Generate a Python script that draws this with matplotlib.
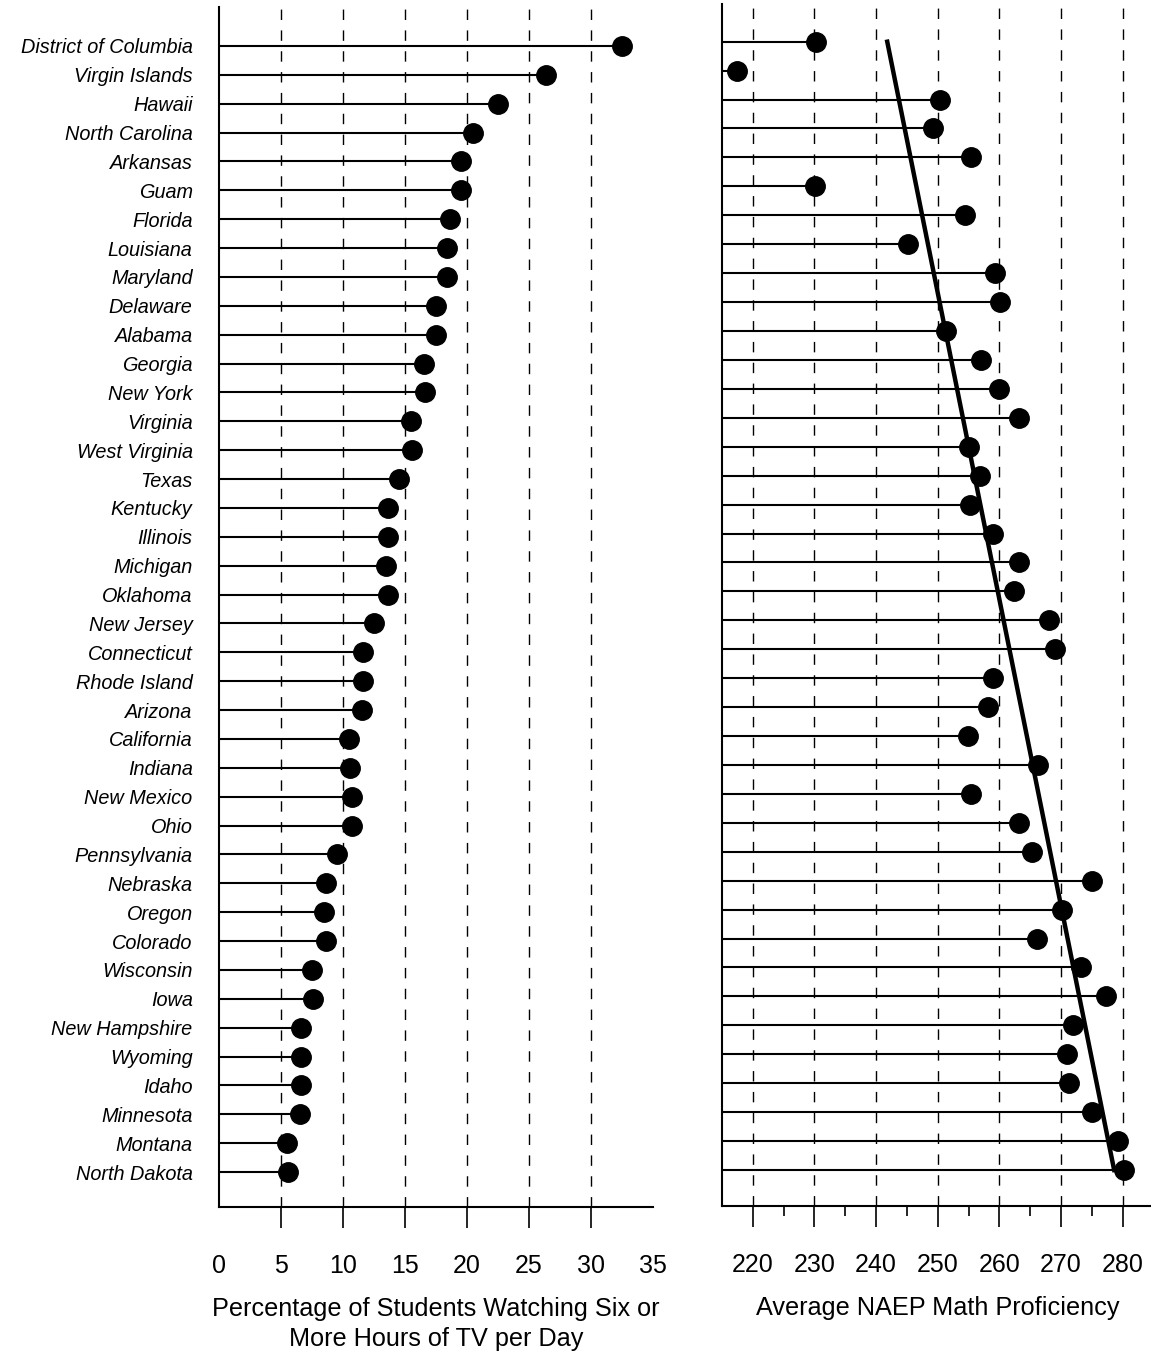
import numpy as np
import matplotlib
matplotlib.use("Agg")
import matplotlib.pyplot as plt

plt.rcParams['font.family'] = ['Liberation Sans', 'DejaVu Sans']

states = ["District of Columbia", "Virgin Islands", "Hawaii", "North Carolina",
          "Arkansas", "Guam", "Florida", "Louisiana", "Maryland", "Delaware",
          "Alabama", "Georgia", "New York", "Virginia", "West Virginia", "Texas",
          "Kentucky", "Illinois", "Michigan", "Oklahoma", "New Jersey",
          "Connecticut", "Rhode Island", "Arizona", "California", "Indiana",
          "New Mexico", "Ohio", "Pennsylvania", "Nebraska", "Oregon", "Colorado",
          "Wisconsin", "Iowa", "New Hampshire", "Wyoming", "Idaho", "Minnesota",
          "Montana", "North Dakota"]

tv_pct = [32.5, 26.4, 22.5, 20.5, 19.5, 19.5, 18.6, 18.4, 18.4, 17.5,
          17.5, 16.5, 16.6, 15.5, 15.6, 14.5, 13.6, 13.6, 13.5, 13.6,
          12.5, 11.6, 11.6, 11.5, 10.5, 10.6, 10.7, 10.7, 9.5, 8.6,
          8.5, 8.6, 7.5, 7.6, 6.6, 6.6, 6.6, 6.5, 5.5, 5.6]

math_score = [230.2, 217.5, 250.3, 249.2, 255.4, 230.1, 254.4, 245.2, 259.3, 260.1,
              251.3, 257.0, 260.0, 263.2, 255.0, 256.9, 255.2, 259.0, 263.1, 262.3,
              268.0, 269.0, 259.0, 258.2, 254.9, 266.3, 255.4, 263.2, 265.3, 275.0,
              270.2, 266.1, 273.3, 277.2, 272.0, 271.0, 271.3, 275.0, 279.2, 280.2]

trend_ends = [241.8, 278.6]

tv_ticks = [0, 5, 10, 15, 20, 25, 30, 35]
math_ticks = [220, 230, 240, 250, 260, 270, 280]

W, H = 1151, 1362
fig = plt.figure(figsize=(W / 100, H / 100), dpi=100)

rows = np.arange(len(states))

# left panel: TV watching
ax1 = fig.add_axes([219 / W, 1 - 1207 / H, 434 / W, 1200 / H])
for x in tv_ticks[1:-1]:
    ax1.axvline(x, color='black', lw=1.0, ls=(0, (7.5, 7.5)), zorder=1)
ax1.hlines(rows, 0, tv_pct, color='black', lw=1.5, zorder=2)
ax1.plot(tv_pct, rows, 'o', color='black', ms=14, zorder=3)
ax1.set_xlim(0, 35)
ax1.set_ylim(39 + (1207 - 1172) / 28.9, -39 / 28.9)
ax1.set_yticks(rows)
ax1.set_yticklabels(states, fontstyle='italic', fontsize=14.3)
ax1.tick_params(axis='y', length=0, pad=19)
ax1.set_xticks(tv_ticks)
ax1.set_xticklabels([str(t) for t in tv_ticks], fontsize=18)
ax1.tick_params(axis='x', direction='out', length=15, width=1.2, pad=18.5)
for t in (ax1.xaxis.get_major_ticks()[0], ax1.xaxis.get_major_ticks()[-1]):
    t.tick1line.set_visible(False)
ax1.set_xlabel("Percentage of Students Watching Six or\nMore Hours of TV per Day",
               fontsize=18.2, labelpad=14, linespacing=1.33)
for s in ('top', 'right'):
    ax1.spines[s].set_visible(False)
ax1.spines['left'].set_linewidth(1.5)
ax1.spines['bottom'].set_linewidth(1.5)

# right panel: math proficiency
ax2 = fig.add_axes([722 / W, 1 - 1206 / H, 431.6 / W, 1202 / H])
for x in math_ticks:
    ax2.axvline(x, color='black', lw=1.0, ls=(0, (7.5, 7.5)), zorder=1)
ax2.hlines(rows, 215, math_score, color='black', lw=1.5, zorder=2)
ax2.plot(math_score, rows, 'o', color='black', ms=14, zorder=3)
ax2.plot(trend_ends, [rows[0], rows[-1]], color='black', lw=3.2, zorder=4)
ax2.set_xlim(215, 285)
ax2.set_ylim(39 + (1206 - 1170) / 28.93, -(41.7 - 4) / 28.93)
ax2.set_yticks([])
ax2.set_xticks(math_ticks)
ax2.set_xticks(np.arange(225, 280, 10), minor=True)
ax2.set_xticklabels([str(t) for t in math_ticks], fontsize=18)
ax2.tick_params(axis='x', which='major', direction='out', length=15, width=1.2, pad=18.5)
ax2.tick_params(axis='x', which='minor', direction='out', length=7.5, width=1.2)
ax2.set_xlabel("Average NAEP Math Proficiency", fontsize=18.2, labelpad=14)
for s in ('top', 'right'):
    ax2.spines[s].set_visible(False)
ax2.spines['left'].set_linewidth(1.5)
ax2.spines['bottom'].set_linewidth(1.5)

fig.savefig("out.png", dpi=100)
